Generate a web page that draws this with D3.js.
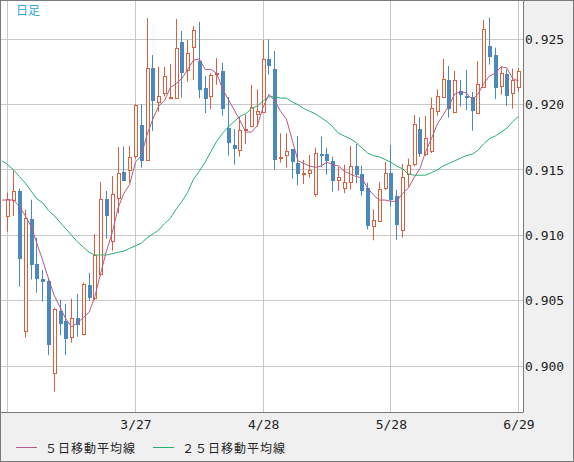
<!DOCTYPE html>
<html>
<head>
<meta charset="utf-8">
<script src="https://cdn.jsdelivr.net/npm/d3@7"></script>
<style>
  body { margin: 0; background: #f0f0f0; }
  svg { display: block; }
</style>
</head>
<body>
<script>
// daily candles (89 sessions)
var opens = [
  0.91143, 0.91265, 0.91342, 0.90263, 0.91125, 0.90781, 0.90666, 0.90651, 0.89944, 0.90421,
  0.90345, 0.90220, 0.90368, 0.90240, 0.90620, 0.90510, 0.90694, 0.91278, 0.90947, 0.91276,
  0.91487, 0.91490, 0.91597, 0.91844, 0.91572, 0.92278, 0.92020, 0.92084, 0.92043, 0.92046,
  0.92480, 0.92263, 0.92439, 0.92334, 0.92128, 0.92064, 0.92235, 0.92258, 0.91821, 0.91691,
  0.91651, 0.91804, 0.91832, 0.91926, 0.91939, 0.92347, 0.92273, 0.91589, 0.91612, 0.91658,
  0.91554, 0.91459, 0.91475, 0.91314, 0.91623, 0.91623, 0.91566, 0.91421, 0.91360, 0.91406,
  0.91531, 0.91470, 0.91362, 0.91069, 0.91107, 0.91357, 0.91477, 0.91301, 0.91041, 0.91467,
  0.91543, 0.91814, 0.91620, 0.91640, 0.91952, 0.92056, 0.92189, 0.91941, 0.92102, 0.92064,
  0.92059, 0.91934, 0.92133, 0.92449, 0.92380, 0.92140, 0.92235, 0.92087, 0.92130
];
var highs = [
  0.91327, 0.91495, 0.91357, 0.91197, 0.91273, 0.90982, 0.90737, 0.90676, 0.90447, 0.90508,
  0.90475, 0.90515, 0.90551, 0.90638, 0.90712, 0.91010, 0.91408, 0.91339, 0.91454, 0.91676,
  0.91679, 0.91684, 0.92005, 0.92005, 0.92663, 0.92380, 0.92288, 0.92288, 0.92311, 0.92656,
  0.92564, 0.92495, 0.92602, 0.92633, 0.92219, 0.92240, 0.92355, 0.92321, 0.92059, 0.91814,
  0.91908, 0.91921, 0.92151, 0.92117, 0.92495, 0.92500, 0.92411, 0.91781, 0.91781, 0.91660,
  0.91760, 0.91577, 0.91615, 0.91671, 0.91755, 0.91671, 0.91602, 0.91526, 0.91541, 0.91684,
  0.91699, 0.91533, 0.91403, 0.91199, 0.91408, 0.91561, 0.91691, 0.91347, 0.91546, 0.91587,
  0.91921, 0.91903, 0.91913, 0.92054, 0.92117, 0.92350, 0.92296, 0.92258, 0.92189, 0.92265,
  0.92097, 0.92332, 0.92648, 0.92666, 0.92436, 0.92291, 0.92270, 0.92276, 0.92281
];
var lows = [
  0.91028, 0.91148, 0.90607, 0.90217, 0.90663, 0.90561, 0.90493, 0.90084, 0.89804, 0.90235,
  0.90084, 0.90179, 0.90225, 0.90235, 0.90498, 0.90505, 0.90689, 0.90975, 0.90883, 0.91168,
  0.91415, 0.91403, 0.91587, 0.91518, 0.91570, 0.91799, 0.91946, 0.92064, 0.92041, 0.92043,
  0.92054, 0.92176, 0.92189, 0.92049, 0.91936, 0.91967, 0.92151, 0.91916, 0.91610, 0.91541,
  0.91602, 0.91699, 0.91830, 0.91832, 0.91936, 0.92230, 0.91503, 0.91556, 0.91518, 0.91434,
  0.91383, 0.91393, 0.91441, 0.91296, 0.91520, 0.91464, 0.91334, 0.91342, 0.91322, 0.91350,
  0.91398, 0.91304, 0.91046, 0.90962, 0.91105, 0.91347, 0.91220, 0.90967, 0.90982, 0.91373,
  0.91528, 0.91602, 0.91607, 0.91630, 0.91916, 0.92054, 0.91901, 0.91939, 0.91985, 0.91959,
  0.91801, 0.91932, 0.92130, 0.92306, 0.92043, 0.92077, 0.91990, 0.91969, 0.92100
];
var closes = [
  0.91276, 0.91337, 0.90822, 0.91125, 0.90773, 0.90663, 0.90643, 0.90164, 0.90436, 0.90324,
  0.90209, 0.90365, 0.90317, 0.90620, 0.90521, 0.90842, 0.91271, 0.91148, 0.91309, 0.91470,
  0.91418, 0.91592, 0.91990, 0.91572, 0.92278, 0.92023, 0.92064, 0.92217, 0.92051, 0.92431,
  0.92245, 0.92395, 0.92569, 0.92115, 0.92043, 0.92225, 0.92242, 0.91969, 0.91709, 0.91661,
  0.91804, 0.91811, 0.91980, 0.91949, 0.92347, 0.92293, 0.91579, 0.91597, 0.91640, 0.91556,
  0.91467, 0.91470, 0.91498, 0.91628, 0.91610, 0.91569, 0.91411, 0.91444, 0.91406, 0.91528,
  0.91464, 0.91342, 0.91074, 0.91117, 0.91352, 0.91470, 0.91273, 0.91082, 0.91444, 0.91538,
  0.91850, 0.91620, 0.91742, 0.91967, 0.92064, 0.92194, 0.91969, 0.92186, 0.92069, 0.92046,
  0.91954, 0.92156, 0.92577, 0.92367, 0.92130, 0.92242, 0.92069, 0.92186, 0.92253
];

// moving averages as drawn; the first value sits one session left of the first candle
var ma5 = [
  0.9127,
  0.9127, 0.9127, 0.9122, 0.9115, 0.9107, 0.9094, 0.9081, 0.9067, 0.9054, 0.9045,
  0.9036, 0.9030, 0.9033, 0.9037, 0.9041, 0.9053, 0.9071, 0.9088, 0.9102, 0.9121,
  0.9132, 0.9139, 0.9156, 0.9161, 0.9177, 0.9189, 0.9199, 0.9203, 0.9213, 0.9216,
  0.9220, 0.9227, 0.9234, 0.9235, 0.9227, 0.9227, 0.9224, 0.9212, 0.9204, 0.9196,
  0.9188, 0.9179, 0.9179, 0.9184, 0.9198, 0.9208, 0.9203, 0.9195, 0.9189, 0.9173,
  0.9157, 0.9155, 0.9153, 0.9152, 0.9153, 0.9156, 0.9154, 0.9153, 0.9149, 0.9147,
  0.9145, 0.9144, 0.9136, 0.9131, 0.9127, 0.9127, 0.9126, 0.9126, 0.9132, 0.9136,
  0.9144, 0.9151, 0.9164, 0.9174, 0.9185, 0.9192, 0.9199, 0.9208, 0.9210, 0.9209,
  0.9204, 0.9208, 0.9216, 0.9222, 0.9224, 0.9229, 0.9228, 0.9220, 0.9218
];
var ma25 = [
  0.9157,
  0.9154, 0.9150, 0.9145, 0.9140, 0.9134, 0.9128, 0.9125, 0.9119, 0.9115, 0.9110,
  0.9105, 0.9100, 0.9095, 0.9091, 0.9087, 0.9085, 0.9085, 0.9085, 0.9086, 0.9087,
  0.9088, 0.9090, 0.9092, 0.9094, 0.9098, 0.9101, 0.9104, 0.9109, 0.9113, 0.9120,
  0.9126, 0.9133, 0.9143, 0.9149, 0.9156, 0.9164, 0.9172, 0.9178, 0.9183, 0.9187,
  0.9191, 0.9193, 0.9197, 0.9199, 0.9203, 0.9206, 0.9206, 0.9205, 0.9205, 0.9202,
  0.9200, 0.9197, 0.9195, 0.9193, 0.9190, 0.9187, 0.9183, 0.9178, 0.9176, 0.9174,
  0.9171, 0.9167, 0.9163, 0.9161, 0.9160, 0.9158, 0.9156, 0.9153, 0.9151, 0.9147,
  0.9146, 0.9146, 0.9146, 0.9148, 0.9150, 0.9153, 0.9155, 0.9157, 0.9159, 0.9161,
  0.9162, 0.9165, 0.9170, 0.9174, 0.9176, 0.9179, 0.9182, 0.9187, 0.9191
];

// axis ticks
var dateTicks = [0, 22, 44, 66, 88];
var dateLabels = ["", "3/27", "4/28", "5/28", "6/29"];
var priceTicks = [0.900, 0.905, 0.910, 0.915, 0.920, 0.925];
var legendNames = ["５日移動平均線", "２５日移動平均線"];

var width = 574, height = 462;
var plotRight = 523, plotBottom = 412;
var upColor = "#d9603f", downColor = "#4a89bd";
var ma5Color = "#b55a86", ma25Color = "#27b06e";

var svg = d3.select("body")
  .append("svg")
  .attr("width", width)
  .attr("height", height);

// backgrounds and frames
svg.append("rect")
  .attr("x", 0.5).attr("y", 0.5)
  .attr("width", width - 1).attr("height", height - 1)
  .attr("fill", "#f0f0f0")
  .attr("stroke", "#7a7a7a");

svg.append("rect")
  .attr("x", 1).attr("y", 1)
  .attr("width", plotRight - 1).attr("height", plotBottom - 1)
  .attr("fill", "#fff");

svg.append("clipPath").attr("id", "plotclip")
  .append("rect")
  .attr("x", 1).attr("y", 1)
  .attr("width", plotRight - 1).attr("height", plotBottom - 1);

// scales
var x = d3.scaleLinear().domain([0, 88]).range([7.8, 518.5]);
var y = d3.scaleLinear().domain([0.900, 0.925]).range([366, 39.3]);

function crisp(v) { return Math.floor(v) + 0.5; }

// grid
var grid = svg.append("g").attr("stroke", "#c8c8c8").attr("stroke-width", 1);
grid.selectAll(".hgrid")
  .data(priceTicks)
  .enter().append("line")
  .attr("x1", 1).attr("x2", plotRight)
  .attr("y1", function(d) { return crisp(y(d)); })
  .attr("y2", function(d) { return crisp(y(d)); });
grid.selectAll(".vgrid")
  .data(dateTicks)
  .enter().append("line")
  .attr("y1", 1).attr("y2", plotBottom)
  .attr("x1", function(d) { return crisp(x(d)); })
  .attr("x2", function(d) { return crisp(x(d)); });

// candles
var candles = closes.map(function(c, i) {
  return { i: i, o: opens[i], h: highs[i], l: lows[i], c: c };
});

var cg = svg.append("g").attr("clip-path", "url(#plotclip)");

cg.selectAll(".wick")
  .data(candles)
  .enter().append("line")
  .attr("x1", function(d) { return Math.floor(x(d.i)) + 0.5; })
  .attr("x2", function(d) { return Math.floor(x(d.i)) + 0.5; })
  .attr("y1", function(d) { return y(d.h); })
  .attr("y2", function(d) { return y(d.l); })
  .attr("stroke", function(d) { return d.c >= d.o ? upColor : downColor; })
  .attr("stroke-width", 1);

// rising: hollow box, falling: filled box
cg.selectAll(".up")
  .data(candles.filter(function(d) { return d.c >= d.o; }))
  .enter().append("rect")
  .attr("x", function(d) { return Math.floor(x(d.i)) - 0.5; })
  .attr("width", 3)
  .attr("y", function(d) { return crisp(y(d.c)); })
  .attr("height", function(d) { return Math.max(1, Math.round(y(d.o) - y(d.c))); })
  .attr("fill", "#fff")
  .attr("stroke", upColor)
  .attr("stroke-width", 1);

cg.selectAll(".down")
  .data(candles.filter(function(d) { return d.c < d.o; }))
  .enter().append("rect")
  .attr("x", function(d) { return Math.floor(x(d.i)) - 1; })
  .attr("width", 4)
  .attr("y", function(d) { return Math.round(y(d.o)); })
  .attr("height", function(d) { return Math.max(2, Math.round(y(d.c) - y(d.o))); })
  .attr("fill", downColor);

// moving average lines
var maLine = d3.line()
  .x(function(d, i) { return x(i - 1); })
  .y(function(d) { return y(d); });

cg.append("path")
  .datum(ma25)
  .attr("d", maLine)
  .attr("fill", "none")
  .attr("stroke", ma25Color)
  .attr("stroke-width", 1);

cg.append("path")
  .datum(ma5)
  .attr("d", maLine)
  .attr("fill", "none")
  .attr("stroke", ma5Color)
  .attr("stroke-width", 1);

// plot frame
svg.append("path")
  .attr("d", "M0.5,0.5V" + (plotBottom + 0.5) + "H" + (plotRight + 0.5) + "V0.5")
  .attr("fill", "none")
  .attr("stroke", "#7a7a7a");

// axes
var yAxis = svg.append("g")
  .attr("transform", "translate(" + plotRight + ",0)")
  .call(d3.axisRight(y)
    .tickValues(priceTicks)
    .tickFormat(d3.format(".3f"))
    .tickSize(0)
    .tickPadding(2));

var xAxis = svg.append("g")
  .attr("transform", "translate(0," + plotBottom + ")")
  .call(d3.axisBottom(x)
    .tickValues(dateTicks)
    .tickFormat(function(d, i) { return dateLabels[i]; })
    .tickSize(0)
    .tickPadding(8));

[yAxis, xAxis].forEach(function(ax) {
  ax.select(".domain").remove();
  ax.selectAll("text")
    .attr("fill", "#222")
    .style("font-family", "'DejaVu Sans Mono', monospace")
    .style("font-size", "13px");
});

// title
svg.append("text")
  .attr("x", 16).attr("y", 15)
  .attr("fill", "#2ea8dc")
  .style("font-family", "'Noto Sans CJK JP', sans-serif")
  .style("font-size", "12px")
  .text("日足");

// legend
var legend = svg.selectAll(".legend")
  .data([{ name: legendNames[0], color: ma5Color, x: 16 }, { name: legendNames[1], color: ma25Color, x: 153 }])
  .enter().append("g")
  .attr("transform", function(d) { return "translate(" + d.x + ",0)"; });

legend.append("line")
  .attr("x1", 0).attr("x2", 21)
  .attr("y1", 447.5).attr("y2", 447.5)
  .attr("stroke", function(d) { return d.color; });

legend.append("text")
  .attr("x", 29).attr("y", 453)
  .attr("fill", "#222")
  .style("font-family", "'Noto Sans CJK JP', sans-serif")
  .style("font-size", "12px")
  .style("letter-spacing", "1px")
  .text(function(d) { return d.name; });
</script>
</body>
</html>
